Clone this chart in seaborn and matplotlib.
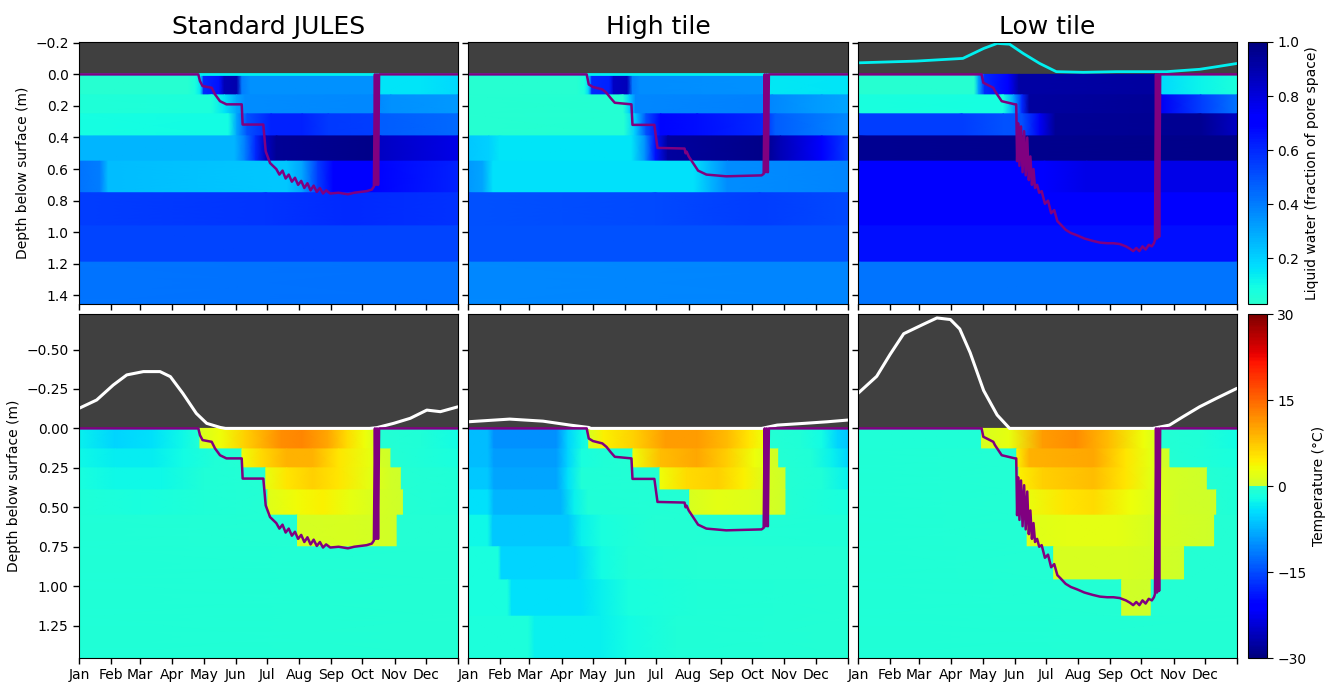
import numpy as np
import matplotlib
matplotlib.use("Agg")
import matplotlib.pyplot as plt
import seaborn as sns
from matplotlib.colors import ListedColormap, Normalize
from matplotlib.cm import ScalarMappable

# ---------------- data ----------------
month_days = [0, 31, 59, 90, 120, 151, 181, 212, 243, 273, 304, 334, 365]
month_labels = ["Jan", "Feb", "Mar", "Apr", "May", "Jun", "Jul", "Aug", "Sep", "Oct", "Nov", "Dec"]
titles = ["Standard JULES", "High tile", "Low tile"]
layer_edges = [0.0, 0.13, 0.25, 0.39, 0.55, 0.75, 0.96, 1.19, 1.455]

# thaw depth (purple line), m below surface
std_thaw_day = [0, 114.9, 116.5, 119, 127.8, 131, 135.8, 142, 156.7, 157.6, 177.5, 179.8, 184, 190, 193, 196, 199, 202,
                205, 208, 211, 214, 217, 220, 223, 226, 229, 232, 235, 238, 242, 250, 259, 265, 271, 277, 282, 284,
                285, 286, 287, 288, 289, 365]
std_thaw_depth = [0, 0, 0.043, 0.074, 0.085, 0.127, 0.17, 0.19, 0.19, 0.318, 0.318, 0.488, 0.562, 0.60, 0.635, 0.61,
                  0.66, 0.635, 0.68, 0.655, 0.70, 0.675, 0.72, 0.69, 0.735, 0.705, 0.745, 0.72, 0.755, 0.735, 0.755,
                  0.75, 0.76, 0.75, 0.745, 0.74, 0.73, 0.71, 0.0, 0.70, 0.0, 0.70, 0.0, 0.0]
high_thaw_day = [0, 114, 116, 120, 129, 133, 137, 141, 157, 158, 179, 182, 208, 209, 210, 212, 215, 221, 229, 248, 282,
                 284, 285, 286, 287, 288, 289, 365]
high_thaw_depth = [0, 0, 0.064, 0.08, 0.095, 0.117, 0.15, 0.18, 0.19, 0.32, 0.32, 0.466, 0.47, 0.50, 0.49, 0.52, 0.55,
                   0.61, 0.635, 0.646, 0.64, 0.63, 0.0, 0.62, 0.0, 0.62, 0.0, 0.0]
low_thaw_day = [0, 119, 120.7, 130.3, 131.9, 138.4, 151.2, 152.4, 153.2, 154.2, 155.5, 157, 158.5, 160, 161.5, 163,
                164.5, 166, 167.5, 169, 170.5, 172.5, 174.5, 176.9, 180, 183, 186, 189, 192, 195, 200, 205, 211, 218,
                226, 233, 240, 246, 252, 258, 262, 265, 268, 271, 274, 277, 280, 283, 285, 286, 287, 288, 289, 290,
                291, 365]
low_thaw_depth = [0, 0, 0.053, 0.085, 0.106, 0.17, 0.19, 0.19, 0.55, 0.31, 0.58, 0.33, 0.62, 0.36, 0.64, 0.40, 0.67,
                  0.52, 0.70, 0.60, 0.72, 0.70, 0.75, 0.74, 0.82, 0.80, 0.88, 0.86, 0.93, 0.95, 0.985, 1.005, 1.02,
                  1.04, 1.055, 1.066, 1.07, 1.07, 1.075, 1.09, 1.105, 1.12, 1.10, 1.12, 1.09, 1.11, 1.08, 1.09, 1.07,
                  1.05, 0.0, 1.04, 0.0, 1.03, 0.0, 0.0]

# snow depth (white line, negative = above surface)
std_snow_day = [0, 17, 33, 46, 62, 78, 88, 100, 113, 123, 136, 141, 280, 287, 303, 319, 335, 348, 365]
std_snow_depth = [-0.127, -0.18, -0.275, -0.339, -0.36, -0.36, -0.328, -0.222, -0.095, -0.032, -0.006, 0, 0, -0.005,
                  -0.032, -0.064, -0.116, -0.106, -0.137]
high_snow_day = [0, 40, 72, 98, 116, 118, 282, 297, 323, 345, 365]
high_snow_depth = [-0.042, -0.059, -0.046, -0.021, -0.006, 0, 0, -0.021, -0.032, -0.042, -0.053]
low_snow_day = [0, 18, 31, 44, 63, 76, 89, 98, 108, 121, 134, 146, 284, 300, 313, 329, 345, 365]
low_snow_depth = [-0.222, -0.33, -0.47, -0.60, -0.66, -0.70, -0.69, -0.63, -0.48, -0.24, -0.085, 0, 0, -0.021,
                  -0.074, -0.137, -0.19, -0.254]

# cyan line in the upper row
std_cyan_day = [0, 365]
std_cyan_depth = [0.0, 0.0]
high_cyan_day = [0, 365]
high_cyan_depth = [0.0, 0.0]
low_cyan_day = [0, 56, 101, 121, 134, 146, 159, 175, 191, 217, 249, 297, 329, 345, 365]
low_cyan_depth = [-0.073, -0.084, -0.101, -0.164, -0.196, -0.191, -0.133, -0.069, -0.017, -0.013, -0.017, -0.017,
                  -0.032, -0.048, -0.069]

# liquid water per layer: [day, fraction] knots
std_water = [
    [[0, .04], [105, .04], [112, .08], [117, .15], [120, .6], [135, .65], [140, .88], [152, .9], [157, .4], [165, .35], [283, .35], [287, .15], [330, .15], [365, .18]],
    [[0, .06], [128, .07], [140, .15], [152, .3], [160, .36], [283, .37], [300, .35], [365, .33]],
    [[0, .09], [144, .1], [152, .3], [162, .5], [185, .62], [215, .62], [240, .56], [283, .55], [290, .48], [365, .45]],
    [[0, .27], [150, .27], [160, .4], [170, .6], [180, .85], [190, .95], [283, .97], [290, .85], [365, .78]],
    [[0, .42], [20, .4], [28, .25], [200, .22], [215, .3], [230, .55], [245, .7], [283, .72], [365, .62]],
    [[0, .55], [180, .57], [260, .6], [365, .58]],
    [[0, .53], [365, .53]],
    [[0, .42], [365, .43]],
]
high_water = [
    [[0, .04], [105, .04], [112, .08], [116, .2], [119, .6], [136, .62], [140, .85], [153, .87], [158, .4], [165, .36], [283, .35], [289, .14], [365, .15]],
    [[0, .045], [149, .05], [155, .2], [161, .37], [283, .39], [292, .37], [340, .32], [365, .3]],
    [[0, .045], [150, .05], [160, .2], [171, .5], [185, .68], [220, .66], [283, .6], [295, .47], [365, .37]],
    [[0, .22], [20, .2], [30, .15], [157, .15], [170, .35], [180, .65], [192, .93], [283, .97], [300, .88], [340, .7], [365, .55]],
    [[0, .33], [14, .3], [24, .16], [217, .16], [233, .27], [249, .36], [365, .38]],
    [[0, .5], [180, .52], [280, .55], [365, .52]],
    [[0, .5], [365, .5]],
    [[0, .37], [365, .38]],
]
low_water = [
    [[0, .04], [112, .04], [116, .3], [122, .6], [145, .7], [155, .92], [286, .93], [290, .18], [330, .12], [365, .07]],
    [[0, .08], [140, .09], [150, .3], [158, .6], [165, .93], [286, .95], [292, .75], [330, .55], [365, .42]],
    [[0, .55], [100, .55], [140, .5], [158, .5], [175, .75], [190, .95], [330, .96], [365, .85]],
    [[0, .96], [365, .97]],
    [[0, .7], [180, .72], [220, .78], [365, .78]],
    [[0, .7], [365, .72]],
    [[0, .66], [365, .66]],
    [[0, .42], [365, .42]],
]

# soil temperature per layer: [day, degC] knots
std_temp = [
    [[0, -3], [35, -5], [70, -4], [100, -2.5], [114, -1], [116, -.5], [116.6, 1], [136, 3], [160, 7], [195, 12], [215, 12.5], [240, 10], [258, 6], [275, 3], [286, 1], [286.6, -.5], [330, -1], [365, -2]],
    [[0, -2.5], [35, -3.5], [70, -3.5], [100, -2], [130, -.8], [156.5, -.5], [157, 3], [175, 6], [200, 9], [225, 9], [250, 5], [280, 2.5], [290, .5], [300, .2], [300.5, -.5], [365, -1.5]],
    [[0, -1.5], [35, -2.5], [80, -2.5], [120, -1], [179.5, -.5], [180, 2.5], [200, 5], [225, 7], [250, 5], [280, 2], [300, .3], [310, .2], [310.5, -.5], [365, -1]],
    [[0, -1], [60, -1.5], [120, -.8], [181.5, -.5], [182, 1.5], [210, 3.5], [235, 4], [260, 2.5], [290, .5], [312, .2], [312.5, -.5], [365, -.8]],
    [[0, -.8], [210, -.5], [210.5, .5], [260, 1], [300, .3], [306, .2], [306.5, -.5], [365, -.7]],
    [[0, -.8], [365, -.6]],
    [[0, -.8], [365, -.6]],
    [[0, -.8], [365, -.6]],
]
high_temp = [
    [[0, -7], [19, -7], [25, -10], [85, -10], [96, -5], [109, -2.5], [115.5, -1], [116, 1], [130, 4], [160, 7], [190, 11], [220, 11], [250, 8], [270, 5], [284, 3], [287, 1], [287.5, -.5], [320, -1], [340, -2], [355, -5], [365, -6]],
    [[0, -7], [19, -7], [25, -9], [85, -9], [96, -5], [109, -1.5], [130, -.8], [158, -.5], [158.5, 3], [185, 8], [220, 10], [250, 7], [275, 3], [290, 1], [298, .2], [298.5, -.5], [330, -1], [350, -3], [365, -5]],
    [[0, -6], [19, -6], [25, -8.5], [85, -8.5], [96, -4], [109, -1], [184, -.5], [184.5, 3], [210, 6], [240, 7], [265, 4], [290, 1], [305, .2], [305.5, -.5], [340, -1], [365, -3]],
    [[0, -4], [19, -4], [25, -7.5], [89, -7.5], [102, -3], [115, -1], [212.5, -.5], [213, 1], [240, 2], [270, 1.5], [305, .2], [305.5, -.5], [365, -1.5]],
    [[0, -2.5], [19, -2.5], [24, -6], [96, -6], [109, -3], [128, -1.5], [180, -.7], [365, -.8]],
    [[0, -1.5], [29, -1.5], [32, -5], [103, -5], [128, -2], [154, -1], [220, -.6], [365, -.6]],
    [[0, -1.5], [38, -1.5], [42, -4], [109, -4], [128, -3], [154, -1.5], [220, -.8], [365, -.6]],
    [[0, -1.2], [58, -1.2], [64, -3], [128, -3], [154, -2], [200, -1], [365, -.7]],
]
low_temp = [
    [[0, -1], [118.5, -.8], [119, 1], [146, 2.5], [178, 11], [210, 12], [242, 8], [275, 3], [288, 1], [288.5, -.5], [330, -1], [365, -2]],
    [[0, -1], [152.5, -.6], [153, 4], [165, 9], [227, 10], [258, 5], [280, 2.5], [295, .3], [300, .2], [300.5, -.5], [365, -1.5]],
    [[0, -1], [154.5, -.6], [155, 4], [178, 7], [227, 8], [258, 5], [281, 2], [300, .5], [336, .2], [336.5, -.5], [365, -1]],
    [[0, -1], [159, -.6], [159.5, 2.5], [200, 5], [227, 6], [262, 3], [283, 1.5], [310, .3], [345, .2], [345.5, -.5], [365, -.8]],
    [[0, -.8], [162.5, -.6], [163, 1.5], [200, 2], [250, 2], [280, 1], [343, .2], [343.5, -.5], [365, -.7]],
    [[0, -.8], [188, -.6], [188.5, .8], [260, .8], [314, .2], [314.5, -.5], [365, -.7]],
    [[0, -.8], [253.5, -.5], [254, .3], [282, .2], [282.5, -.5], [365, -.6]],
    [[0, -.8], [365, -.6]],
]

# ---------------- styling ----------------
sns.set_style("ticks", {"axes.edgecolor": "black", "axes.labelcolor": "black", "text.color": "black",
                        "xtick.color": "black", "ytick.color": "black"})
plt.rcParams["font.family"] = ["DejaVu Sans"]
plt.rcParams["font.size"] = 10

jet = plt.get_cmap("jet")
water_cmap = ListedColormap(jet(np.linspace(0.4, 0.0, 256)))
water_norm = Normalize(0.03, 1.0)
temp_cmap = ListedColormap(np.vstack([jet(np.linspace(0.0, 0.4, 128)), jet(np.linspace(0.6, 1.0, 128))]))
temp_norm = Normalize(-30, 30)

W, H = 1338, 689
fig = plt.figure(figsize=(W / 100, H / 100), dpi=100)


def ax_px(x0, y0, x1, y1):
    return fig.add_axes([x0 / W, 1 - y1 / H, (x1 - x0) / W, (y1 - y0) / H])


def draw_layers(ax, knots, cmap, norm):
    n = len(knots)
    for i, layer in enumerate(knots):
        d = np.array([p[0] for p in layer], float)
        v = np.array([p[1] for p in layer], float)
        top = layer_edges[i]
        bot = layer_edges[i + 1] + (0.012 if i < n - 1 else 0.0)
        X = np.vstack([d, d])
        Y = np.vstack([np.full_like(d, top), np.full_like(d, bot)])
        C = np.vstack([v, v])
        ax.pcolormesh(X, Y, C, shading="gouraud", cmap=cmap, norm=norm)


def line(ax, x, y, color, lw):
    sns.lineplot(x=np.asarray(x, float), y=np.asarray(y, float), ax=ax, color=color, linewidth=lw,
                 estimator=None, sort=False, legend=False)


col_x = [(79, 458), (468, 848), (858, 1237)]
top_y = (42, 304)
bot_y = (314, 658)

thaws = [(std_thaw_day, std_thaw_depth), (high_thaw_day, high_thaw_depth), (low_thaw_day, low_thaw_depth)]
snows = [(std_snow_day, std_snow_depth), (high_snow_day, high_snow_depth), (low_snow_day, low_snow_depth)]
cyans = [(std_cyan_day, std_cyan_depth), (high_cyan_day, high_cyan_depth), (low_cyan_day, low_cyan_depth)]
waters = [std_water, high_water, low_water]
temps = [std_temp, high_temp, low_temp]

for j in range(3):
    x0, x1 = col_x[j]
    # upper row: liquid water
    ax = ax_px(x0, top_y[0], x1, top_y[1])
    ax.set_facecolor("#404040")
    draw_layers(ax, waters[j], water_cmap, water_norm)
    line(ax, cyans[j][0], cyans[j][1], "#00f0f0", 2.0)
    line(ax, thaws[j][0], thaws[j][1], "purple", 1.8)
    ax.set_xlim(0, 365)
    ax.set_ylim(1.455, -0.205)
    ax.set_yticks([-0.2, 0.0, 0.2, 0.4, 0.6, 0.8, 1.0, 1.2, 1.4])
    ax.set_xticks(month_days)
    ax.set_xticklabels([])
    ax.set_title(titles[j], fontsize=18, pad=6)
    ax.set_xlabel("")
    if j == 0:
        ax.set_ylabel("Depth below surface (m)", fontsize=10)
    else:
        ax.set_yticklabels([])
        ax.set_ylabel("")
    ax.tick_params(direction="out", length=4, width=1, labelsize=10)

    # lower row: temperature
    ax = ax_px(x0, bot_y[0], x1, bot_y[1])
    ax.set_facecolor("#404040")
    draw_layers(ax, temps[j], temp_cmap, temp_norm)
    line(ax, snows[j][0], snows[j][1], "white", 2.2)
    line(ax, thaws[j][0], thaws[j][1], "purple", 1.8)
    ax.set_xlim(0, 365)
    ax.set_ylim(1.455, -0.725)
    ax.set_yticks([-0.5, -0.25, 0.0, 0.25, 0.5, 0.75, 1.0, 1.25])
    ax.set_xticks(month_days)
    ax.set_xticklabels(month_labels + [""])
    ax.set_xlabel("")
    if j == 0:
        ax.set_ylabel("Depth below surface (m)", fontsize=10)
    else:
        ax.set_yticklabels([])
        ax.set_ylabel("")
    ax.tick_params(direction="out", length=4, width=1, labelsize=10)

# colorbars
cax1 = ax_px(1248, top_y[0], 1267, top_y[1])
cb1 = fig.colorbar(ScalarMappable(norm=water_norm, cmap=water_cmap), cax=cax1, ticks=[0.2, 0.4, 0.6, 0.8, 1.0])
cb1.set_label("Liquid water (fraction of pore space)", fontsize=10)
cb1.ax.tick_params(labelsize=10, length=4)

cax2 = ax_px(1248, bot_y[0], 1267, bot_y[1])
cb2 = fig.colorbar(ScalarMappable(norm=temp_norm, cmap=temp_cmap), cax=cax2, ticks=[-30, -15, 0, 15, 30])
cb2.set_label("Temperature (°C)", fontsize=10)
cb2.ax.tick_params(labelsize=10, length=4)

fig.savefig("out.png", dpi=100)
